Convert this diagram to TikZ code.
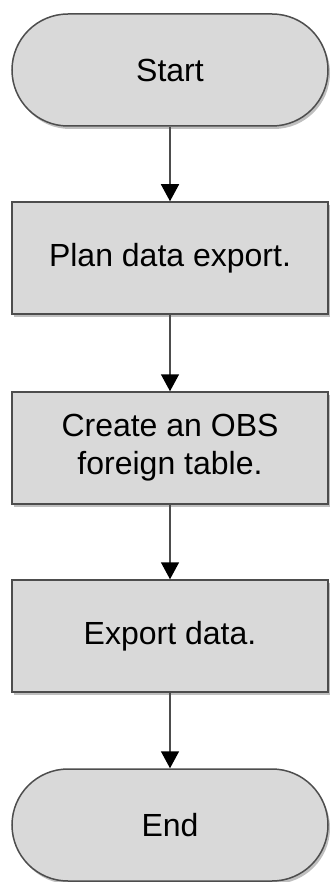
\documentclass[tikz,border=0pt]{standalone}
\usepackage{fontspec}
\setmainfont{Liberation Sans}
\usetikzlibrary{arrows.meta,shadows}
\definecolor{boxfill}{HTML}{D9D9D9}
\definecolor{boxline}{HTML}{4D4D4D}
\begin{document}
\begin{tikzpicture}[x=1pt,y=1pt,
  base/.style={draw=boxline,line width=1.5pt,fill=boxfill,minimum width=316pt,minimum height=112pt,
    align=center,font=\fontsize{32}{38}\selectfont,
    drop shadow={opacity=0.5,shadow xshift=2pt,shadow yshift=-3pt}},
  term/.style={base,rounded corners=56pt},
  proc/.style={base,rectangle},
  flow/.style={draw=boxline,line width=1.5pt,-{Triangle[width=18pt,length=17pt,color=black]}}]
\useasboundingbox (0,0) rectangle (330,-882);
\node[term] (start) at (170,-70) {Start};
\node[proc] (plan) at (170,-258) {Plan data export.};
\node[proc] (create) at (170,-448) {Create an OBS\\foreign table.};
\node[proc] (export) at (170,-636) {Export data.};
\node[term] (end) at (170,-825) {End};
\draw[flow] (start) -- (plan);
\draw[flow] (plan) -- (create);
\draw[flow] (create) -- (export);
\draw[flow] (export) -- (end);
\end{tikzpicture}
\end{document}
